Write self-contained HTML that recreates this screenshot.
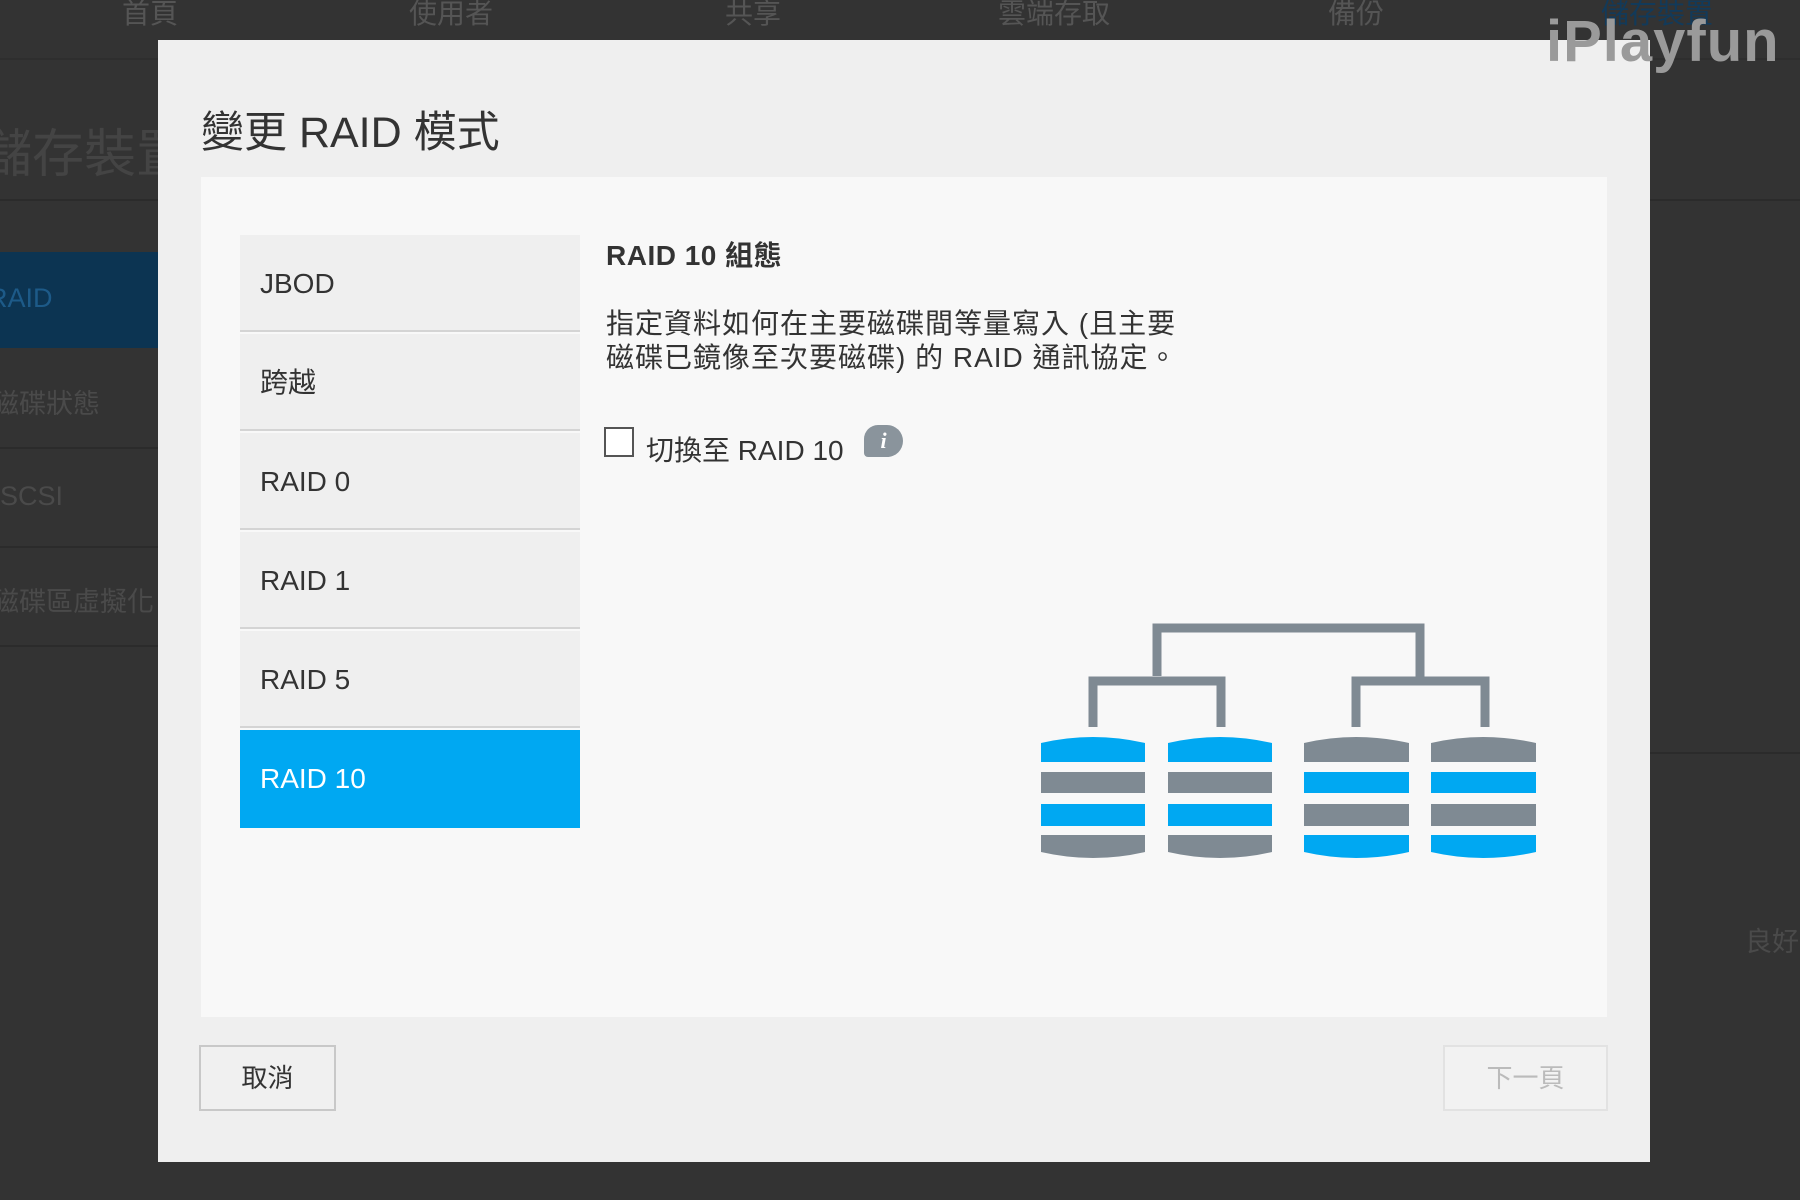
<!DOCTYPE html>
<html><head><meta charset="utf-8"><style>
*{margin:0;padding:0;box-sizing:border-box}
body{width:1800px;height:1200px;background:#333;position:relative;overflow:hidden;font-family:"Liberation Sans","Noto Sans CJK TC",sans-serif}
.a{position:absolute;white-space:nowrap}
.nav{top:-8px;font-size:28px;color:#555;transform:translateX(-50%)}
.side{color:#4a4a4a;font-size:27px}
.ln{position:absolute;height:2px;background:#2b2b2b}
.item{position:absolute;left:240px;width:340px;height:97px;background:#efefef;font-size:28px;color:#333;padding-left:20px;line-height:97px;border-bottom:2px solid #d4d4d4}
</style></head><body>
<div class="a nav" style="left:150px">首頁</div>
<div class="a nav" style="left:451px">使用者</div>
<div class="a nav" style="left:753px">共享</div>
<div class="a nav" style="left:1054px">雲端存取</div>
<div class="a nav" style="left:1356px">備份</div>
<div class="a nav" style="left:1657px;color:#123a5a">儲存裝置</div>
<div class="ln" style="left:0;top:58px;width:1800px;background:#2e2e2e"></div>
<div class="a side" style="left:-20px;top:112px;font-size:52px;color:#444">儲存裝置</div>
<div class="ln" style="left:0;top:199px;width:1800px"></div>
<div class="a" style="left:0;top:252px;width:160px;height:96px;background:#0c3452"></div>
<div class="a side" style="left:-12px;top:283px;color:#1d5a88">RAID</div>
<div class="a side" style="left:-8px;top:382px">磁碟狀態</div>
<div class="ln" style="left:0;top:447px;width:160px"></div>
<div class="a side" style="left:-6px;top:481px">iSCSI</div>
<div class="ln" style="left:0;top:546px;width:160px"></div>
<div class="a side" style="left:-8px;top:580px">磁碟區虛擬化</div>
<div class="ln" style="left:0;top:645px;width:160px"></div>
<div class="ln" style="left:1650px;top:752px;width:150px"></div>
<div class="a side" style="left:1745px;top:920px">良好</div>

<div class="a" style="left:158px;top:40px;width:1492px;height:1122px;background:#efefef"></div>
<div class="a" style="left:201px;top:98px;font-size:43px;color:#333">變更 RAID 模式</div>
<div class="a" style="left:201px;top:177px;width:1406px;height:840px;background:#f8f8f8"></div>

<div class="item" style="top:235px">JBOD</div>
<div class="item" style="top:334px">跨越</div>
<div class="item" style="top:433px">RAID 0</div>
<div class="item" style="top:532px">RAID 1</div>
<div class="item" style="top:631px">RAID 5</div>
<div class="item" style="top:730px;height:98px;background:#00a8f2;color:#fff;border:none;line-height:98px">RAID 10</div>

<div class="a" style="left:606px;top:234px;font-size:28px;font-weight:bold;color:#333;letter-spacing:0.5px">RAID 10 組態</div>
<div class="a" style="left:606px;top:307px;font-size:28px;color:#333;line-height:34px;letter-spacing:1px">指定資料如何在主要磁碟間等量寫入 (且主要<br>磁碟已鏡像至次要磁碟) 的 RAID 通訊協定。</div>
<div class="a" style="left:604px;top:427px;width:30px;height:30px;border:2px solid #555;background:#fff"></div>
<div class="a" style="left:646px;top:429px;font-size:28px;color:#333">切換至 RAID 10</div>
<div class="a" style="left:864px;top:425px;width:39px;height:32px;border-radius:14px 16px 16px 4px;background:#8a949c;color:#fff;font-size:22px;font-style:italic;font-weight:bold;text-align:center;line-height:32px;font-family:'Liberation Serif',serif">i</div>

<svg class="a" style="left:0;top:0" width="1800" height="1200">
<g fill="none" stroke="#7f8a93" stroke-width="9">
<path d="M1157 676 V628 H1420 V680"/>
<path d="M1093 727 V681 H1221 V727"/>
<path d="M1356 727 V681 H1485 V727"/>
</g>
<g id="L">
<path d="M1041 743 Q1093 731 1145 743 V762 H1041Z" fill="#00a8f2"/>
<rect x="1041" y="772" width="104" height="21" fill="#7f8a93"/>
<rect x="1041" y="804" width="104" height="22" fill="#00a8f2"/>
<path d="M1041 835 H1145 V852 Q1093 864 1041 852Z" fill="#7f8a93"/>
</g>
<use href="#L" transform="translate(127 0)"/>
<g id="R">
<path d="M1304 743 Q1356 731 1409 743 V762 H1304Z" fill="#7f8a93"/>
<rect x="1304" y="772" width="105" height="21" fill="#00a8f2"/>
<rect x="1304" y="804" width="105" height="22" fill="#7f8a93"/>
<path d="M1304 835 H1409 V852 Q1356 864 1304 852Z" fill="#00a8f2"/>
</g>
<use href="#R" transform="translate(127 0)"/>
</svg>

<div class="a" style="left:199px;top:1045px;width:137px;height:66px;background:#f0f0f0;border:2px solid #c8c8c8;font-size:26px;color:#333;text-align:center;line-height:62px">取消</div>
<div class="a" style="left:1443px;top:1045px;width:165px;height:66px;background:#f2f2f2;border:2px solid #e2e2e2;font-size:26px;color:#bbb;text-align:center;line-height:62px">下一頁</div>

<div class="a" style="left:1546px;top:8px;font-size:58px;font-weight:bold;color:#9a9a9a;letter-spacing:1px">iPlayfun</div>
</body></html>
